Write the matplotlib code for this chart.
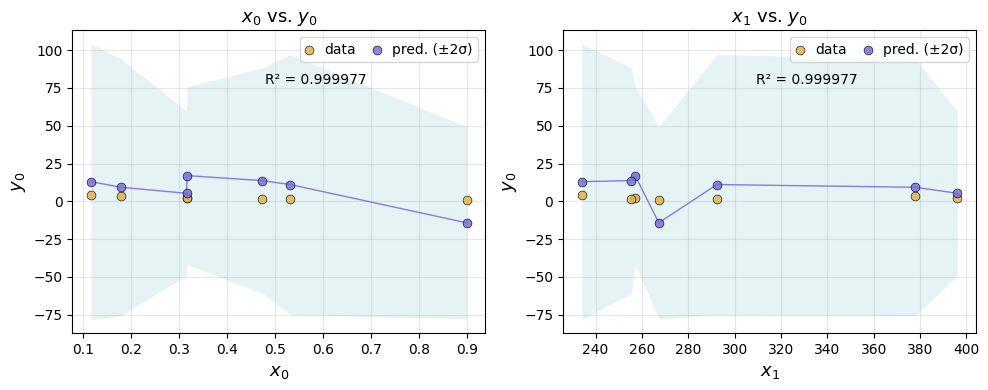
import matplotlib
matplotlib.use("Agg")
import matplotlib.pyplot as plt
import numpy as np

# one entry per sample
x0 = np.array([0.117, 0.179, 0.316, 0.317, 0.474, 0.532, 0.900])
x1 = np.array([234.1, 377.8, 396.1, 257.1, 255.5, 292.4, 267.3])
y_data = np.array([4.0, 3.3, 2.4, 2.4, 1.8, 1.8, 1.1])
y_pred = np.array([13.0, 9.3, 5.3, 17.0, 13.7, 11.1, -14.2])
y_sigma = np.array([45.6, 42.5, 27.2, 29.4, 37.3, 43.0, 31.8])
r2_text = "R² = 0.999977"

DATA_COLOR = "#e3b14f"
PRED_COLOR = "#7b6fd9"
BAND_COLOR = "#a9d8dc"


def panel(ax, x, xlabel, title):
    order = np.argsort(x)
    xs = x[order]
    ps = y_pred[order]
    ss = y_sigma[order]
    ax.fill_between(xs, ps - 2 * ss, ps + 2 * ss, color=BAND_COLOR, alpha=0.3, linewidth=0)
    ax.plot(xs, ps, color=PRED_COLOR, linewidth=1, alpha=0.9)
    ax.scatter(x, y_data, color=DATA_COLOR, edgecolor="black", linewidth=0.5,
               s=40, alpha=0.85, label="data", zorder=3)
    ax.scatter(x, y_pred, color=PRED_COLOR, edgecolor="black", linewidth=0.5,
               s=40, alpha=0.85, label="pred. (±2σ)", zorder=4)
    ax.text(0.59, 0.835, r2_text, transform=ax.transAxes, ha="center", va="center", fontsize=10)
    ax.set_xlabel(xlabel, fontsize=13)
    ax.set_ylabel("$y_0$", fontsize=13)
    ax.set_title(title, fontsize=13)
    ax.grid(True, alpha=0.3)
    ax.legend(loc="upper right", ncol=2, handlelength=0.6, handletextpad=0.8,
              columnspacing=1.2)


fig, axes = plt.subplots(1, 2, figsize=(9.88, 3.9), dpi=100)
panel(axes[0], x0, "$x_0$", "$x_0$ vs. $y_0$")
panel(axes[1], x1, "$x_1$", "$x_1$ vs. $y_0$")
axes[0].set_xticks(np.arange(0.1, 0.95, 0.1))
axes[1].set_xticks(np.arange(240, 401, 20))
for ax in axes:
    ax.set_yticks([-75, -50, -25, 0, 25, 50, 75, 100])

fig.subplots_adjust(left=0.0732, right=0.988, top=0.923, bottom=0.1454, wspace=0.188)
plt.savefig("out.png")
